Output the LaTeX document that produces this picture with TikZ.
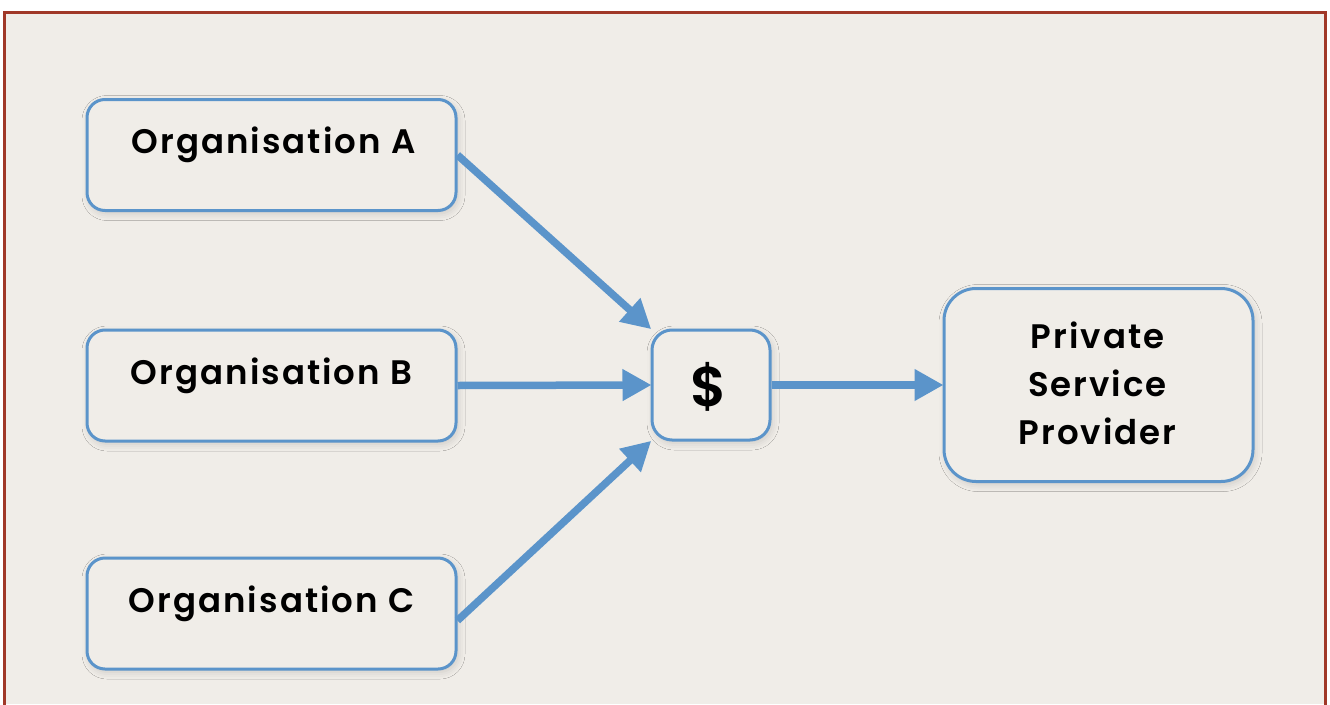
\documentclass[tikz,border=0pt]{standalone}
\usepackage{fontspec}
\setmainfont{Poppins}[LetterSpace=6, BoldFont={Poppins SemiBold}]
\usetikzlibrary{arrows.meta,calc,shadows.blur}

\definecolor{flowblue}{RGB}{91,148,202}
\definecolor{framered}{RGB}{160,56,40}
\definecolor{paper}{RGB}{240,237,232}

\tikzset{
  roundbox/.style={draw=flowblue, line width=3pt, fill=paper, rounded corners=18pt,
    blur shadow={shadow xshift=2pt, shadow yshift=-3pt, shadow opacity=15, shadow blur radius=7pt}},
  orgbox/.style={roundbox, minimum width=369pt, minimum height=111pt},
  label/.style={font=\fontsize{34}{48}\selectfont\bfseries, text=black, align=center, inner sep=0pt},
  flow/.style={draw=flowblue, line width=7.5pt,
    -{Triangle[length=29pt,width=30pt]}, shorten >=-1pt}
}

\begin{document}
\begin{tikzpicture}[x=1pt,y=-1pt]
  % page and frame
  \useasboundingbox (0,0) rectangle (1330,704);
  \fill[white] (0,0) rectangle (1330,704);
  \fill[paper] (4.5,12) rectangle (1325,704);
  \draw[framered, line width=3pt] (4.5,720) -- (4.5,12) -- (1325,12) -- (1325,720);

  % boxes
  \node[orgbox] (orgA) at (271.5,155) {};
  \node[orgbox] (orgB) at (271.5,385.5) {};
  \node[orgbox] (orgC) at (271.5,613.5) {};
  \node[roundbox, rounded corners=20pt, minimum width=118pt, minimum height=110pt] (pool) at (711,385) {};
  \node[roundbox, rounded corners=32pt, minimum width=309pt, minimum height=193pt] (psp) at (1098.5,385) {};

  % box texts
  \node[label] (orgAtxt) at ($(orgA)+(2,-10)$) {Organisation A};
  \node[label] (orgBtxt) at ($(orgB)+(0,-10)$) {Organisation B};
  \node[label] (orgCtxt) at ($(orgC)+(0,-10)$) {Organisation C};
  \node[label, font=\fontsize{56}{56}\selectfont\bfseries] (pooltxt) at ($(pool)+(-2,2)$) {\$};
  \node[label] (psptxt) at ($(psp)+(-1,-2)$) {Private\\Service\\Provider};

  % money flows
  \draw[flow] (orgA.east) -- (pool.north west);
  \draw[flow] (orgB.east) -- (pool.west);
  \draw[flow] ($(orgC.east)+(0,7)$) -- (pool.south west);
  \draw[flow] (pool.east) -- (psp.west);
\end{tikzpicture}
\end{document}
